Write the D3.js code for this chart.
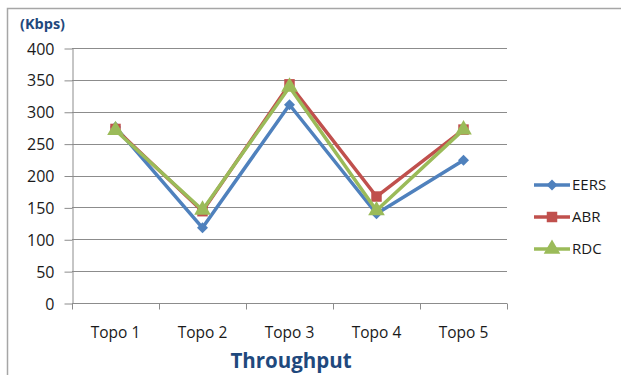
<!DOCTYPE html>
<html>
<head>
<meta charset="utf-8">
<script src="https://cdn.jsdelivr.net/npm/d3@7"></script>
<style>
  html, body { margin: 0; padding: 0; background: #fff; }
  svg { display: block; }
  text { font-family: "Open Sans", "Noto Sans", "Liberation Sans", sans-serif; }
</style>
</head>
<body>
<svg id="chart" width="621" height="375"></svg>
<script>
// Throughput per topology (Kbps)
const categories = ["Topo 1", "Topo 2", "Topo 3", "Topo 4", "Topo 5"];
const seriesNames = ["EERS", "ABR", "RDC"];
const eersValues = [276, 118, 311, 140, 224];
const abrValues = [273, 144, 343, 167, 272];
const rdcValues = [271, 146, 339, 145, 272];
const yTicks = [0, 50, 100, 150, 200, 250, 300, 350, 400];

const series = [
  { name: seriesNames[0], values: eersValues, color: "#4F81BD", symbol: d3.symbolSquare, size: 60, rotate: 45 },
  { name: seriesNames[1], values: abrValues, color: "#C0504D", symbol: d3.symbolSquare, size: 110, rotate: 0 },
  { name: seriesNames[2], values: rdcValues, color: "#9BBB59", symbol: d3.symbolTriangle, size: 120, rotate: 0 }
];

const svg = d3.select("#chart");
const plot = { left: 72, right: 507, top: 48, bottom: 303 };

// outer frame (top and left edges)
svg.append("path")
  .attr("d", "M7.5,375 V8.5 H621")
  .attr("fill", "none")
  .attr("stroke", "#a6a6a6")
  .attr("stroke-width", 1.5);

const x = d3.scaleBand().domain(categories).range([plot.left, plot.right]);
const y = d3.scaleLinear().domain([0, 400]).range([plot.bottom, plot.top]);

// horizontal gridlines
svg.append("g")
  .selectAll("line")
  .data(yTicks.filter(t => t > 0))
  .join("line")
  .attr("x1", plot.left).attr("x2", plot.right)
  .attr("y1", d => Math.round(y(d)) + 0.5).attr("y2", d => Math.round(y(d)) + 0.5)
  .attr("stroke", "#8c8c8c")
  .attr("stroke-width", 1);

// y axis
const yAxis = svg.append("g")
  .attr("transform", `translate(${plot.left + 0.5},0.5)`)
  .call(d3.axisLeft(y).tickValues(yTicks).tickSize(8).tickPadding(10).tickSizeOuter(0));
yAxis.select(".domain").attr("stroke", "#8c8c8c");
yAxis.selectAll(".tick line").attr("stroke", "#8c8c8c");
yAxis.selectAll(".tick text")
  .attr("font-size", 16)
  .attr("fill", "#1a1a1a")
  .attr("dy", "0.35em");

// x axis with ticks at band boundaries
const xAxisG = svg.append("g").attr("transform", `translate(0,${plot.bottom + 0.5})`);
xAxisG.append("line")
  .attr("x1", plot.left).attr("x2", plot.right)
  .attr("stroke", "#8c8c8c");
const boundaries = categories.map(c => x(c)).concat([plot.right]);
xAxisG.selectAll("line.tk")
  .data(boundaries)
  .join("line")
  .attr("class", "tk")
  .attr("x1", d => Math.round(d) + 0.5).attr("x2", d => Math.round(d) + 0.5)
  .attr("y1", 0).attr("y2", 6)
  .attr("stroke", "#8c8c8c");
xAxisG.selectAll("text")
  .data(categories)
  .join("text")
  .attr("x", d => x(d) + x.bandwidth() / 2)
  .attr("y", 34)
  .attr("text-anchor", "middle")
  .attr("font-size", 15.5)
  .attr("fill", "#1a1a1a")
  .text(d => d);

// axis titles
svg.append("text")
  .attr("x", 20).attr("y", 29)
  .attr("font-size", 14.5)
  .attr("font-weight", "bold")
  .attr("fill", "#1F497D")
  .text("(Kbps)");

svg.append("text")
  .attr("x", 291).attr("y", 368)
  .attr("text-anchor", "middle")
  .attr("font-size", 20.5)
  .attr("font-weight", "bold")
  .attr("fill", "#1F497D")
  .text("Throughput");

// series lines and markers
const line = d3.line()
  .x((d, i) => x(categories[i]) + x.bandwidth() / 2)
  .y(d => y(d));

series.forEach(s => {
  const g = svg.append("g");
  g.append("path")
    .attr("d", line(s.values))
    .attr("fill", "none")
    .attr("stroke", s.color)
    .attr("stroke-width", 3.5)
    .attr("stroke-linejoin", "round");
  g.selectAll("path.mk")
    .data(s.values)
    .join("path")
    .attr("class", "mk")
    .attr("transform", (d, i) => `translate(${x(categories[i]) + x.bandwidth() / 2},${y(d)}) rotate(${s.rotate})`)
    .attr("d", d3.symbol().type(s.symbol).size(s.size))
    .attr("fill", s.color);
});

// legend
const legend = svg.append("g");
const legendY = [185, 217, 249];
series.forEach((s, i) => {
  const gy = legendY[i];
  legend.append("line")
    .attr("x1", 534).attr("x2", 570)
    .attr("y1", gy).attr("y2", gy)
    .attr("stroke", s.color)
    .attr("stroke-width", 3.5);
  legend.append("path")
    .attr("transform", `translate(552,${gy}) rotate(${s.rotate})`)
    .attr("d", d3.symbol().type(s.symbol).size(s.size))
    .attr("fill", s.color);
  legend.append("text")
    .attr("x", 572).attr("y", gy)
    .attr("dy", "0.35em")
    .attr("font-size", 15)
    .attr("fill", "#1a1a1a")
    .text(s.name);
});
</script>
</body>
</html>
